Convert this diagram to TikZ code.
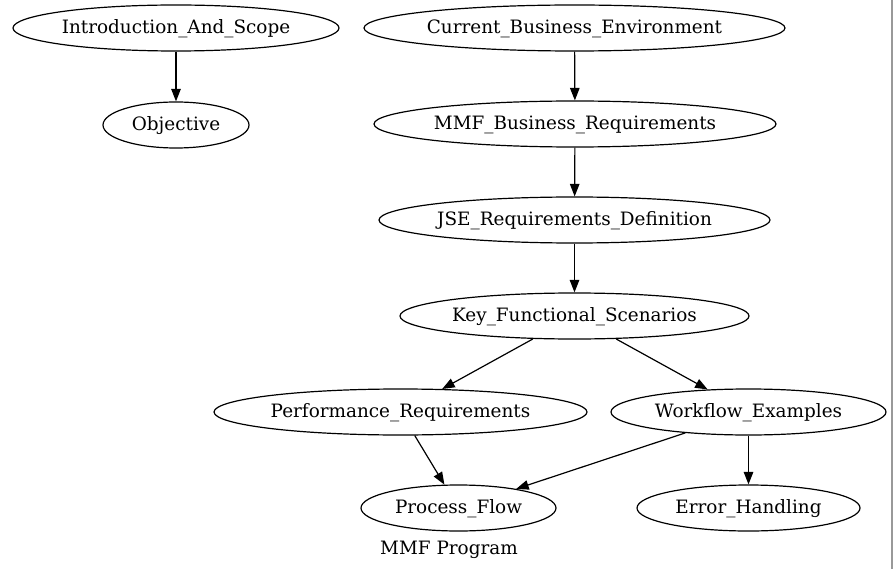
\documentclass[tikz,border=0pt]{standalone}
\usepackage{fontspec}
\setmainfont{DejaVu Serif}
\usetikzlibrary{shapes.geometric,arrows.meta}
\tikzset{
  gnode/.style={draw, ellipse, line width=1.2pt, inner sep=0pt, minimum height=46pt, font=\fontsize{18.4}{22}\selectfont},
  gedge/.style={draw, line width=1.2pt, -{Triangle[length=12.5pt,width=9.5pt]}},
}
\newcommand{\zb}[1]{\makebox[0pt]{\raisebox{-5.5pt}[0pt][0pt]{#1}}}
\begin{document}
\begin{tikzpicture}[x=1pt,y=-1pt]
\useasboundingbox (0,0) rectangle (893,569);
\draw[gray!80, line width=1.3pt] (892,0) -- (892,569);
\node[gnode, minimum width=326pt] (intro) at (176,28) {\zb{Introduction\_And\_Scope}};
\node[gnode, minimum width=146pt] (obj) at (176,125) {\zb{Objective}};
\node[gnode, minimum width=421pt] (cbe) at (574.5,28) {\zb{Current\_Business\_Environment}};
\node[gnode, minimum width=402pt] (mmf) at (575,124) {\zb{MMF\_Business\_Requirements}};
\node[gnode, minimum width=391pt] (jse) at (574.5,220) {\zb{JSE\_Requirements\_Definition}};
\node[gnode, minimum width=349pt] (key) at (574.5,316) {\zb{Key\_Functional\_Scenarios}};
\node[gnode, minimum width=373pt] (perf) at (400.5,412) {\zb{Performance\_Requirements}};
\node[gnode, minimum width=275pt] (work) at (748.5,412) {\zb{Workflow\_Examples}};
\node[gnode, minimum width=195pt] (proc) at (458.5,508) {\zb{Process\_Flow}};
\node[gnode, minimum width=223pt] (err) at (748.5,508) {\zb{Error\_Handling}};
\node[font=\fontsize{18.4}{22}\selectfont, inner sep=0pt, anchor=base] (lbl) at (449,554.3) {MMF Program};
\path[gedge] (intro) -- (obj);
\path[gedge] (cbe) -- (mmf);
\path[gedge] (mmf) -- (jse);
\path[gedge] (jse) -- (key);
\path[gedge] (key) -- (perf);
\path[gedge] (key) -- (work);
\path[gedge] (perf) -- (proc);
\path[gedge] (work) -- (proc);
\path[gedge] (work) -- (err);
\end{tikzpicture}
\end{document}
